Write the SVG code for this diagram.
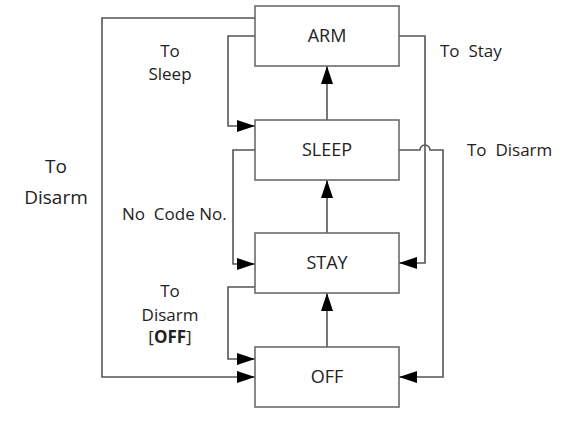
<svg xmlns="http://www.w3.org/2000/svg" width="584" height="438" viewBox="0 0 584 438">
<defs>
<style>
.box{fill:#fff;stroke:#6b6b6b;stroke-width:1.6}
.ln{fill:none;stroke:#555;stroke-width:1.6}
text{font-family:"Open Sans","Noto Sans",sans-serif;fill:#222;font-size:17px}
.nl{font-size:18px;text-anchor:middle}
.c{text-anchor:middle}
.big{font-size:19px;text-anchor:middle}
</style>
<marker id="ah" markerWidth="18" markerHeight="12" refX="18" refY="6" orient="auto" markerUnits="userSpaceOnUse">
<path d="M0,0 L18,6 L0,12 Z" fill="#000"/>
</marker>
</defs>
<rect width="584" height="438" fill="#fff"/>
<g id="connectors">
<path class="ln" d="M327,120 V66" marker-end="url(#ah)"/>
<path class="ln" d="M327,233 V180" marker-end="url(#ah)"/>
<path class="ln" d="M327,347 V293" marker-end="url(#ah)"/>
<path class="ln" d="M255,18 H102 V377 H255" marker-end="url(#ah)"/>
<path class="ln" d="M255,36 H228 V126 H255" marker-end="url(#ah)"/>
<path class="ln" d="M255,150 H233 V264 H255" marker-end="url(#ah)"/>
<path class="ln" d="M255,287 H228 V359 H255" marker-end="url(#ah)"/>
<path class="ln" d="M399,36 H425 V263 H399" marker-end="url(#ah)"/>
<path class="ln" d="M399,150 H420 A5,5 0 0 1 430,150 H443 V377 H399" marker-end="url(#ah)"/>
</g>
<g id="arm"><rect class="box" x="255" y="6" width="144" height="60"/><text class="nl" x="327" y="42">ARM</text></g>
<g id="sleep"><rect class="box" x="255" y="120" width="144" height="60"/><text class="nl" x="327" y="156">SLEEP</text></g>
<g id="stay"><rect class="box" x="255" y="233" width="144" height="60"/><text class="nl" x="327" y="269">STAY</text></g>
<g id="off"><rect class="box" x="255" y="347" width="144" height="60"/><text class="nl" x="327" y="383">OFF</text></g>
<g id="labels">
<text class="c" x="170" y="57">To</text>
<text class="c" x="170" y="80">Sleep</text>
<text x="440" y="57" xml:space="preserve">To  Stay</text>
<text x="467" y="156" xml:space="preserve">To  Disarm</text>
<text class="big" x="56" y="173">To</text>
<text class="big" x="56" y="204">Disarm</text>
<text x="122" y="220" xml:space="preserve">No  Code No.</text>
<text class="c" x="170" y="297">To</text>
<text class="c" x="170" y="321">Disarm</text>
<text class="c" x="170" y="343">[<tspan font-weight="bold">OFF</tspan>]</text>
</g>
</svg>
